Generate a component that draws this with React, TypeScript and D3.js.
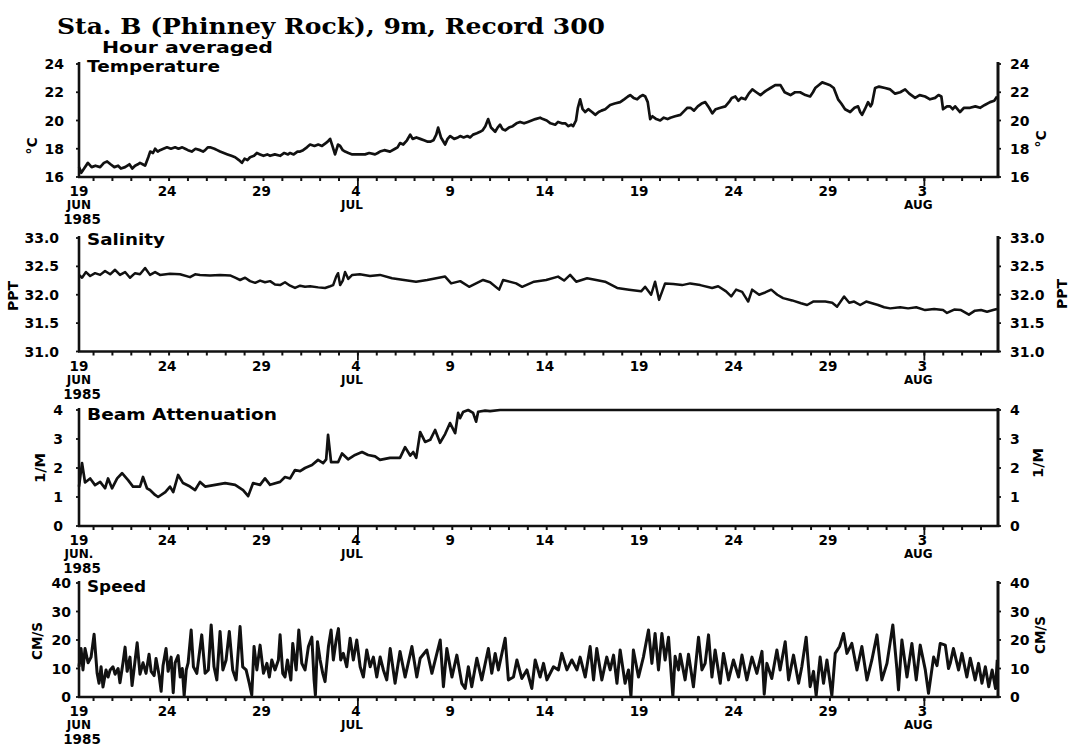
import React from "react";
import * as d3 from "d3";

// ---------- time axis (days since 19 JUN 1985 00:00) ----------
const startDay = 0.23;
const endDay = 48.9;
const dayTickDays = d3.range(1, 49);
const dateTickDays = [5, 10, 15, 20, 25, 30, 35, 40, 45];
const dateTickLabels = ["24", "29", "4", "9", "14", "19", "24", "29", "3"];
const monthDays = [15, 45];
const monthNames = ["JUL", "AUG"];

// ---------- data: [day, value] ----------
const temperature: [number, number][] = [
  [0.23,16.7],[0.35,16.3],[0.5,16.6],[0.7,17.0],[0.9,16.7],[1.1,16.8],[1.35,16.7],[1.55,17.0],[1.72,17.1],[1.9,16.9],
  [2.1,16.7],[2.3,16.8],[2.45,16.6],[2.67,16.7],[2.9,16.9],[3.05,16.6],[3.2,16.8],[3.35,16.9],[3.46,17.0],[3.6,16.9],
  [3.73,16.8],[3.9,17.4],[4.0,17.8],[4.15,17.7],[4.26,18.0],[4.4,17.8],[4.52,17.9],[4.7,18.0],[4.89,18.1],[5.1,18.0],
  [5.32,18.1],[5.5,18.0],[5.7,18.1],[5.85,18.0],[6.0,17.9],[6.2,17.8],[6.4,18.0],[6.64,17.9],[6.8,17.8],[6.91,17.9],
  [7.05,18.1],[7.17,18.1],[7.4,18.0],[7.55,17.9],[7.7,17.8],[7.9,17.7],[8.1,17.6],[8.3,17.5],[8.5,17.4],[8.7,17.2],
  [8.86,17.0],[9.0,17.3],[9.15,17.2],[9.29,17.4],[9.5,17.5],[9.65,17.7],[9.82,17.6],[10.0,17.5],[10.2,17.6],[10.35,17.5],
  [10.6,17.6],[10.88,17.5],[11.1,17.7],[11.3,17.6],[11.41,17.7],[11.6,17.6],[11.8,17.8],[11.94,17.8],[12.1,17.9],[12.3,18.1],
  [12.47,18.3],[12.7,18.2],[12.9,18.3],[13.1,18.2],[13.3,18.4],[13.4,18.5],[13.53,18.7],[13.65,18.2],[13.79,17.6],[13.95,18.3],
  [14.06,18.2],[14.2,17.9],[14.32,17.8],[14.5,17.7],[14.7,17.6],[14.85,17.6],[15.1,17.6],[15.38,17.6],[15.6,17.7],[15.91,17.6],
  [16.05,17.7],[16.17,17.8],[16.4,17.9],[16.7,17.8],[16.97,18.0],[17.1,18.1],[17.23,18.4],[17.4,18.3],[17.6,18.6],[17.77,19.0],
  [17.9,18.7],[18.1,18.8],[18.3,18.7],[18.5,18.6],[18.7,18.5],[18.83,18.5],[19.0,18.6],[19.15,19.0],[19.25,19.5],[19.4,18.8],
  [19.62,18.3],[19.75,18.7],[19.89,18.9],[20.1,18.7],[20.3,18.8],[20.42,18.9],[20.6,18.8],[20.8,18.9],[20.94,18.8],[21.1,19.0],
  [21.3,19.1],[21.47,19.2],[21.6,19.3],[21.75,19.6],[21.9,20.1],[22.05,19.5],[22.27,19.2],[22.4,19.5],[22.53,19.7],[22.65,19.4],
  [22.8,19.3],[23.0,19.5],[23.2,19.6],[23.4,19.8],[23.59,19.9],[23.8,19.8],[24.0,19.9],[24.2,20.0],[24.4,20.1],[24.65,20.2],
  [24.8,20.1],[25.0,20.0],[25.2,19.8],[25.45,19.7],[25.6,19.9],[25.8,19.8],[25.98,19.8],[26.15,19.6],[26.3,19.7],[26.4,19.6],
  [26.55,20.0],[26.65,20.9],[26.77,21.5],[26.9,20.8],[27.04,20.6],[27.2,20.8],[27.4,20.6],[27.57,20.4],[27.75,20.6],[27.9,20.7],
  [28.1,20.8],[28.36,21.1],[28.6,21.2],[28.89,21.3],[29.1,21.5],[29.3,21.7],[29.42,21.8],[29.6,21.6],[29.79,21.5],[29.95,21.7],
  [30.1,21.8],[30.22,21.7],[30.35,21.3],[30.48,20.1],[30.6,20.3],[30.8,20.1],[31.01,20.0],[31.2,20.2],[31.4,20.1],[31.55,20.2],
  [31.8,20.3],[32.08,20.4],[32.3,20.7],[32.45,20.9],[32.61,20.9],[32.8,20.7],[33.0,21.0],[33.2,21.2],[33.4,21.3],[33.6,20.9],
  [33.77,20.5],[33.95,20.8],[34.2,20.9],[34.46,21.0],[34.65,21.3],[34.8,21.6],[34.99,21.7],[35.15,21.4],[35.3,21.6],[35.52,21.5],
  [35.7,21.9],[35.89,22.2],[36.1,22.0],[36.32,21.8],[36.6,22.1],[36.85,22.3],[37.1,22.5],[37.38,22.5],[37.6,22.0],[37.91,21.8],
  [38.15,22.0],[38.42,22.0],[38.7,21.8],[38.95,21.7],[39.1,22.0],[39.22,22.3],[39.4,22.5],[39.59,22.7],[39.8,22.6],[40.01,22.5],
  [40.2,22.3],[40.43,21.5],[40.6,21.2],[40.8,20.8],[41.07,20.6],[41.3,20.9],[41.49,21.0],[41.6,20.6],[41.7,20.4],[41.85,20.8],
  [42.02,21.3],[42.15,21.0],[42.23,21.2],[42.39,22.3],[42.6,22.4],[42.92,22.3],[43.19,22.2],[43.45,21.9],[43.72,22.0],[43.98,22.2],
  [44.2,21.9],[44.51,21.6],[44.75,21.8],[45.04,21.7],[45.3,21.5],[45.57,21.6],[45.75,21.8],[45.9,21.7],[45.99,20.8],[46.2,21.0],
  [46.36,21.0],[46.5,20.8],[46.63,21.0],[46.89,20.6],[47.1,20.9],[47.42,20.9],[47.7,21.0],[47.95,20.9],[48.2,21.1],[48.48,21.3],
  [48.7,21.4],[48.85,21.7],
];

const salinity: [number, number][] = [
  [0.23,32.35],[0.39,32.30],[0.6,32.40],[0.82,32.33],[1.08,32.38],[1.35,32.35],[1.61,32.42],[1.88,32.36],[2.14,32.44],[2.4,32.35],
  [2.67,32.40],[2.93,32.30],[3.2,32.38],[3.46,32.36],[3.73,32.47],[3.99,32.35],[4.26,32.40],[4.52,32.35],[5.05,32.37],[5.58,32.36],
  [6.11,32.31],[6.38,32.36],[6.64,32.35],[7.17,32.34],[7.7,32.35],[8.23,32.34],[8.5,32.30],[8.76,32.26],[9.03,32.30],[9.29,32.24],
  [9.56,32.21],[9.82,32.25],[10.08,32.22],[10.35,32.24],[10.61,32.18],[10.88,32.17],[11.14,32.22],[11.41,32.16],[11.67,32.12],[11.94,32.16],
  [12.2,32.14],[12.47,32.15],[12.9,32.13],[13.26,32.12],[13.53,32.15],[13.69,32.17],[13.85,32.32],[13.95,32.38],[14.06,32.17],[14.2,32.25],
  [14.32,32.40],[14.49,32.28],[14.7,32.35],[15.1,32.36],[15.64,32.33],[16.17,32.35],[16.81,32.29],[17.44,32.26],[18.08,32.23],[18.67,32.26],
  [19.62,32.32],[19.94,32.20],[20.42,32.24],[20.89,32.14],[21.63,32.26],[22.0,32.22],[22.48,32.09],[22.69,32.26],[23.38,32.20],[23.7,32.14],
  [24.33,32.23],[24.97,32.26],[25.6,32.32],[25.92,32.25],[26.24,32.35],[26.56,32.23],[27.14,32.29],[27.62,32.26],[28.09,32.23],[28.73,32.12],
  [29.36,32.09],[30.0,32.06],[30.21,32.14],[30.53,32.0],[30.74,32.23],[30.95,31.91],[31.27,32.2],[31.7,32.19],[32.17,32.17],[32.6,32.2],
  [33.13,32.17],[33.76,32.12],[34.08,32.15],[34.5,32.06],[34.77,31.97],[35.03,32.09],[35.35,32.05],[35.67,31.88],[35.88,32.09],[36.25,32.0],
  [36.57,32.04],[36.89,32.09],[37.21,32.0],[37.52,31.94],[38.0,31.9],[38.47,31.85],[38.79,31.82],[39.11,31.88],[39.75,31.88],[40.12,31.86],
  [40.38,31.79],[40.75,31.97],[41.02,31.86],[41.28,31.88],[41.6,31.82],[41.92,31.88],[42.23,31.85],[42.55,31.82],[42.87,31.78],[43.19,31.76],
  [43.72,31.78],[44.14,31.76],[44.57,31.78],[45.04,31.73],[45.52,31.75],[45.99,31.73],[46.2,31.68],[46.58,31.74],[46.94,31.73],[47.36,31.65],
  [47.68,31.72],[48.0,31.73],[48.32,31.70],[48.64,31.73],[48.85,31.75],
];

const beamAttenuation: [number, number][] = [
  [0.23,1.36],[0.39,2.17],[0.55,1.5],[0.82,1.64],[1.08,1.41],[1.35,1.52],[1.61,1.3],[1.77,1.64],[1.98,1.3],[2.25,1.64],
  [2.51,1.82],[2.83,1.58],[3.09,1.36],[3.46,1.36],[3.62,1.69],[3.83,1.3],[3.99,1.24],[4.26,1.07],[4.42,1.0],[4.8,1.17],
  [5.05,1.36],[5.22,1.17],[5.48,1.76],[5.74,1.48],[6.11,1.36],[6.38,1.24],[6.64,1.52],[6.91,1.36],[7.44,1.42],[7.97,1.48],
  [8.5,1.42],[8.92,1.24],[9.19,1.03],[9.45,1.48],[9.82,1.42],[10.08,1.64],[10.35,1.42],[10.88,1.52],[11.14,1.69],[11.41,1.64],
  [11.67,1.93],[11.94,1.89],[12.2,2.0],[12.57,2.1],[12.89,2.28],[13.16,2.17],[13.32,2.3],[13.42,3.14],[13.58,2.2],[13.95,2.2],
  [14.16,2.5],[14.48,2.3],[14.85,2.45],[15.22,2.55],[15.54,2.45],[15.91,2.4],[16.17,2.28],[16.7,2.35],[17.23,2.35],[17.5,2.72],
  [17.77,2.43],[17.93,2.55],[18.09,2.35],[18.3,3.24],[18.56,2.9],[18.83,2.97],[19.09,3.31],[19.35,2.87],[19.62,3.17],[19.88,3.55],
  [20.15,3.2],[20.31,3.9],[20.41,3.72],[20.57,3.93],[20.84,4.0],[21.1,3.9],[21.26,3.6],[21.37,3.94],[21.74,3.98],[22.0,3.96],
  [22.53,4.0],[48.9,4.0],
];

const speed: [number, number][] = [
  [0.23,10.6],[0.34,17],[0.44,9.5],[0.55,17],[0.71,12],[0.87,14],[1.03,22],[1.19,8.3],[1.29,4.8],[1.4,10.6],
  [1.5,3.5],[1.66,9.5],[1.77,7],[1.88,9.5],[2.03,10.6],[2.14,8],[2.3,10],[2.4,5],[2.56,12],[2.67,17.5],
  [2.78,9],[2.93,14],[3.04,4],[3.15,10],[3.31,19],[3.46,8],[3.62,12],[3.78,8.3],[3.94,15],[4.05,9],
  [4.21,7.5],[4.31,13.5],[4.47,7.7],[4.58,2],[4.68,11],[4.84,17],[4.95,9],[5.11,14],[5.22,1.5],[5.32,12],
  [5.48,14.5],[5.59,7],[5.7,10],[5.8,0.5],[5.91,9.5],[6.01,12],[6.17,23.5],[6.29,10.6],[6.47,8.3],[6.73,21.8],
  [6.91,8.3],[7.08,9.5],[7.23,25.3],[7.38,10.6],[7.53,6],[7.7,23],[7.85,9.5],[8.02,13],[8.19,23],[8.37,9.5],
  [8.55,6],[8.76,24.7],[8.9,10.6],[9.08,9.5],[9.25,4.8],[9.38,0.7],[9.5,17.7],[9.65,9.5],[9.82,18.2],[10.0,8.3],
  [10.18,11.8],[10.31,7],[10.44,13],[10.61,9.5],[10.79,13],[10.88,21.8],[11.02,8.3],[11.14,7],[11.27,13],[11.45,6],
  [11.55,18.8],[11.73,9.5],[11.87,23.5],[12.03,11.8],[12.2,9.5],[12.38,17.7],[12.56,21],[12.68,6],[12.75,0.7],[12.86,19.4],
  [13.0,13],[13.14,8.3],[13.26,5.4],[13.44,17.7],[13.58,23.5],[13.7,13],[13.85,20],[13.97,24],[14.09,13],[14.23,15.3],
  [14.41,10.6],[14.59,20.6],[14.76,13],[14.94,20],[15.12,10.6],[15.29,7],[15.47,16.5],[15.65,10.6],[15.82,14],[16.0,7],
  [16.18,14],[16.35,9.5],[16.53,6],[16.71,17],[16.97,4.8],[17.23,16],[17.5,7],[17.86,17.7],[18.12,7],[18.3,13.6],
  [18.65,16.5],[18.92,8.3],[19.36,20],[19.53,3.6],[19.71,17],[19.98,7],[20.24,14.7],[20.5,4.8],[20.68,3],[20.85,10.6],
  [21.03,3.6],[21.3,13.6],[21.56,6],[21.91,17],[22.09,8.3],[22.27,15.3],[22.44,9.5],[22.8,20.6],[22.97,6],[23.24,7],
  [23.42,13],[23.68,6.5],[23.95,9.5],[24.21,3],[24.39,13],[24.65,7],[24.83,11.8],[25.01,6],[25.36,10.6],[25.62,9.5],
  [25.8,15.3],[26.07,9.5],[26.33,13],[26.6,9.5],[26.77,14],[27.04,7],[27.3,17.7],[27.48,6],[27.65,17],[27.92,6],
  [28.18,14],[28.36,9.5],[28.54,14.7],[28.72,4.8],[28.89,16.5],[29.15,4.8],[29.33,9.5],[29.46,0.2],[29.59,16.5],[29.86,7],
  [30.12,14],[30.39,23.5],[30.57,11.8],[30.74,22.3],[30.92,9.5],[31.1,22.3],[31.27,13],[31.45,21],[31.68,0.2],[31.8,14.3],
  [31.98,9.5],[32.07,15],[32.33,6],[32.51,15],[32.77,3.6],[33.04,21],[33.22,9.5],[33.39,11.8],[33.57,21.8],[33.75,7],
  [33.92,16.5],[34.19,4.8],[34.36,15.3],[34.63,6],[34.89,13],[35.16,7],[35.34,14.7],[35.6,6],[35.87,14],[36.13,8.3],
  [36.4,16],[36.52,1.0],[36.66,11.8],[36.92,6.5],[37.19,16.5],[37.36,9.5],[37.63,19.4],[37.81,6],[38.07,14.7],[38.34,4.8],
  [38.51,10.6],[38.74,21],[38.95,3.6],[39.13,9],[39.27,0.5],[39.48,14],[39.66,4.8],[39.84,13],[40.1,0.5],[40.28,15.3],
  [40.51,17.7],[40.72,22.3],[40.9,15.3],[41.16,18.8],[41.43,9.5],[41.69,17.7],[41.96,6],[42.22,13],[42.49,21.8],[42.75,6],
  [43.02,11.8],[43.33,25.3],[43.55,9.5],[43.63,2.5],[43.81,20],[44.08,7],[44.34,18.8],[44.57,6],[44.78,18.2],[45.05,9.5],
  [45.22,1.3],[45.49,14],[45.67,11],[45.84,18.8],[46.11,18.2],[46.28,10],[46.37,11.8],[46.54,17],[46.81,9.5],[46.99,15.3],
  [47.25,7],[47.43,13.6],[47.69,6],[47.87,11.8],[48.05,4.8],[48.23,10.6],[48.41,3.6],[48.59,9.5],[48.77,3],[48.86,13],
];

const temperatureTicks = [16, 18, 20, 22, 24];
const salinityTicks = [31.0, 31.5, 32.0, 32.5, 33.0];
const beamTicks = [0, 1, 2, 3, 4];
const speedTicks = [0, 10, 20, 30, 40];

// ---------- layout ----------
const X0 = 79;
const X1 = 998;
const FONT = "'DejaVu Sans', sans-serif";

type PanelCfg = {
  title: string;
  titleLen: number;
  titleBase: number;
  unit: string;
  unitLen: number;
  unitLeft: [number, number];
  unitRight: [number, number];
  domain: [number, number];
  ticks: number[];
  fmt: (v: number) => string;
  yTop: number;
  yBot: number;
  data: [number, number][];
  labelEnd: number;
  startMonth: string;
  lineWidth: number;
};

const panels: PanelCfg[] = [
  {
    title: "Temperature", titleLen: 133, titleBase: 72,
    unit: "°C", unitLen: 17, unitLeft: [32, 146], unitRight: [1041, 139],
    domain: [16, 24], ticks: temperatureTicks, fmt: d3.format("d"),
    yTop: 64, yBot: 177, data: temperature, labelEnd: 64, startMonth: "JUN", lineWidth: 2.7,
  },
  {
    title: "Salinity", titleLen: 78, titleBase: 245,
    unit: "PPT", unitLen: 30, unitLeft: [13, 296], unitRight: [1062, 294],
    domain: [31, 33], ticks: salinityTicks, fmt: d3.format(".1f"),
    yTop: 238, yBot: 351.5, data: salinity, labelEnd: 59, startMonth: "JUN", lineWidth: 2.5,
  },
  {
    title: "Beam Attenuation", titleLen: 190, titleBase: 420,
    unit: "1/M", unitLen: 30, unitLeft: [40, 468], unitRight: [1038, 463],
    domain: [0, 4], ticks: beamTicks, fmt: d3.format("d"),
    yTop: 410, yBot: 526, data: beamAttenuation, labelEnd: 63, startMonth: "JUN.", lineWidth: 2.7,
  },
  {
    title: "Speed", titleLen: 59, titleBase: 592,
    unit: "CM/S", unitLen: 38, unitLeft: [37, 641], unitRight: [1040, 635],
    domain: [0, 40], ticks: speedTicks, fmt: d3.format("d"),
    yTop: 583, yBot: 697, data: speed, labelEnd: 71, startMonth: "JUN", lineWidth: 3,
  },
];

function Panel({ cfg }: { cfg: PanelCfg }) {
  const x = d3.scaleLinear().domain([startDay, endDay]).range([X0, X1]);
  const y = d3.scaleLinear().domain(cfg.domain).range([cfg.yBot, cfg.yTop]);
  const line = d3
    .line<[number, number]>()
    .x((d) => x(d[0]))
    .y((d) => y(d[1]));
  const yb = cfg.yBot;
  return (
    <g>
      {/* data */}
      <path d={line(cfg.data) || ""} fill="none" stroke="#111" strokeWidth={cfg.lineWidth} strokeLinejoin="round" />
      {/* axes */}
      <line x1={X0} x2={X0} y1={cfg.yTop - 2} y2={yb} stroke="#111" strokeWidth={2.6} />
      <line x1={X1} x2={X1} y1={cfg.yTop - 2} y2={yb} stroke="#111" strokeWidth={3} />
      <line x1={X0 - 1} x2={X1 + 1.5} y1={yb} y2={yb} stroke="#111" strokeWidth={2.6} />
      {/* daily ticks */}
      {dayTickDays.map((d) => (
        <line key={d} x1={x(d)} x2={x(d)} y1={yb} y2={yb + 4} stroke="#111" strokeWidth={2} />
      ))}
      {monthDays.map((d) => (
        <line key={"m" + d} x1={x(d)} x2={x(d)} y1={yb} y2={yb + 9} stroke="#111" strokeWidth={1.8} />
      ))}
      {/* y ticks and labels */}
      {cfg.ticks.map((t) => (
        <g key={t}>
          <line x1={X0 - 3} x2={X0} y1={y(t)} y2={y(t)} stroke="#111" strokeWidth={1.8} />
          <line x1={X1} x2={X1 + 3} y1={y(t)} y2={y(t)} stroke="#111" strokeWidth={1.8} />
          <text x={cfg.labelEnd} y={y(t) + 5} textAnchor="end" fontSize={14} fontWeight="bold" fontFamily={FONT}>
            {cfg.fmt(t)}
          </text>
          <text x={1010} y={y(t) + 5} textAnchor="start" fontSize={14} fontWeight="bold" fontFamily={FONT}>
            {cfg.fmt(t)}
          </text>
        </g>
      ))}
      {/* date labels */}
      <text x={X0} y={yb + 19} textAnchor="middle" fontSize={13.5} fontWeight="bold" fontFamily={FONT}>19</text>
      <text x={X0} y={yb + 32} textAnchor="middle" fontSize={12} fontWeight="bold" fontFamily={FONT}>{cfg.startMonth}</text>
      <text x={X0 + 3} y={yb + 47} textAnchor="middle" fontSize={13.5} fontWeight="bold" fontFamily={FONT}>1985</text>
      {dateTickDays.map((d, i) => (
        <text key={"d" + d} x={x(d) - 2} y={yb + 19} textAnchor="middle" fontSize={13.5} fontWeight="bold" fontFamily={FONT}>
          {dateTickLabels[i]}
        </text>
      ))}
      {monthDays.map((d, i) => (
        <text key={"mn" + d} x={x(d) - 6} y={yb + 32} textAnchor="middle" fontSize={12} fontWeight="bold" fontFamily={FONT}>
          {monthNames[i]}
        </text>
      ))}
      {/* title */}
      <text x={87} y={cfg.titleBase} fontSize={15} fontWeight="bold" fontFamily={FONT} textLength={cfg.titleLen} lengthAdjust="spacingAndGlyphs">
        {cfg.title}
      </text>
      {/* units */}
      {[cfg.unitLeft, cfg.unitRight].map((p, i) => (
        <text
          key={"u" + i}
          transform={`translate(${p[0]},${p[1]}) rotate(-90)`}
          textAnchor="middle"
          dy="0.35em"
          fontSize={14}
          fontWeight="bold"
          fontFamily={FONT}
          textLength={cfg.unitLen}
          lengthAdjust="spacingAndGlyphs"
        >
          {cfg.unit}
        </text>
      ))}
    </g>
  );
}

export default function App() {
  return (
    <svg width={1075} height={750} viewBox="0 0 1075 750" style={{ display: "block", position: "absolute", left: 0, top: 0, background: "#fff" }}>
      <rect x={0} y={0} width={1075} height={750} fill="#fff" />
      <text x={57} y={34} fontSize={23} fontWeight="bold" fontFamily="'DejaVu Serif', serif" textLength={548} lengthAdjust="spacingAndGlyphs">
        Sta. B (Phinney Rock), 9m, Record 300
      </text>
      <text x={102} y={53} fontSize={15} fontWeight="bold" fontFamily={FONT} textLength={171} lengthAdjust="spacingAndGlyphs">
        Hour averaged
      </text>
      {panels.map((p) => (
        <Panel key={p.title} cfg={p} />
      ))}
    </svg>
  );
}
